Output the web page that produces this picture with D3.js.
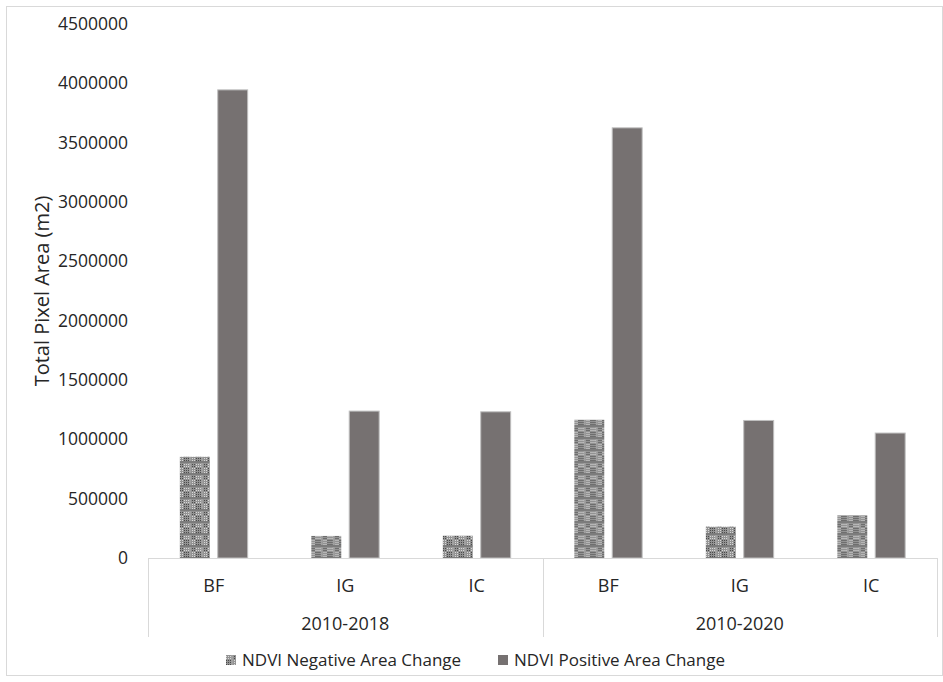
<!DOCTYPE html>
<html>
<head>
<meta charset="utf-8">
<script src="https://cdn.jsdelivr.net/npm/d3@7"></script>
<style>
  body { margin: 0; background: #fff; }
  svg text { font-family: "Open Sans", "Liberation Sans", sans-serif; fill: #262626; }
</style>
</head>
<body>
<svg id="chart" width="943" height="682"></svg>
<script>
// data
const periods = ["2010-2018", "2010-2020"];
const landCovers = ["BF", "IG", "IC"];
const seriesNames = ["NDVI Negative Area Change", "NDVI Positive Area Change"];
const negativeArea = [853000, 186000, 188000, 1165000, 264000, 360000];
const positiveArea = [3945000, 1238000, 1232000, 3625000, 1159000, 1053000];
const yTicks = [0, 500000, 1000000, 1500000, 2000000, 2500000, 3000000, 3500000, 4000000, 4500000];

const svg = d3.select("#chart");
const margin = { left: 148, right: 6, top: 24, bottom: 124 };
const W = 943, H = 682;

// one row per category (period + land cover)
const cats = [];
periods.forEach((p, i) => landCovers.forEach((c, j) => {
  const k = i * landCovers.length + j;
  cats.push({ key: p + "|" + c, period: p, cover: c, values: [negativeArea[k], positiveArea[k]] });
}));

const x = d3.scaleBand().domain(cats.map(d => d.key))
  .range([margin.left, W - margin.right]);
const xInner = d3.scaleBand().domain([0, 1])
  .range([0, x.bandwidth()]).paddingInner(0.21).paddingOuter(0.84);
const y = d3.scaleLinear().domain([0, 4500000]).range([558, margin.top]);

// plaid pattern for negative series
const defs = svg.append("defs");
const pat = defs.append("pattern").attr("id", "neg").attr("patternUnits", "userSpaceOnUse")
  .attr("width", 12).attr("height", 12);
pat.append("rect").attr("width", 12).attr("height", 12).attr("fill", "#939393");
for (let i = 0; i < 12; i += 2) {
  for (let j = 0; j < 12; j += 2) {
    const inBlock = (i < 6) !== (j < 6);
    pat.append("rect").attr("x", i).attr("y", j).attr("width", 1).attr("height", 1)
      .attr("fill", inBlock ? "#d8d8d8" : "#4a4a4a");
  }
}
pat.append("rect").attr("x", 5).attr("width", 2).attr("height", 12).attr("fill", "#a0a0a0");
pat.append("rect").attr("y", 5).attr("width", 12).attr("height", 2).attr("fill", "#7c7c7c");

// outer frame
svg.append("rect").attr("x", 6.5).attr("y", 6.5).attr("width", 936).attr("height", 669)
  .attr("fill", "none").attr("stroke", "#d9d9d9");

// y axis labels
const yAxis = svg.append("g").attr("transform", `translate(${margin.left - 17},0)`)
  .call(d3.axisLeft(y).tickValues(yTicks).tickFormat(d3.format("d")).tickSize(0));
yAxis.select(".domain").remove();
yAxis.selectAll("text").style("font-size", "17.5px").attr("fill", "#262626");

svg.append("text")
  .attr("transform", `translate(49,${(y(0) + y(4500000)) / 2}) rotate(-90)`)
  .attr("text-anchor", "middle").style("font-size", "20px")
  .text("Total Pixel Area (m2)");

// bars
const groups = svg.append("g").selectAll("g").data(cats).join("g")
  .attr("transform", d => `translate(${x(d.key)},0)`);
groups.selectAll("rect").data(d => d.values.map((v, i) => ({ v, i }))).join("rect")
  .attr("x", d => xInner(d.i))
  .attr("width", xInner.bandwidth())
  .attr("y", d => y(d.v))
  .attr("height", d => y(0) - y(d.v))
  .attr("fill", d => d.i === 0 ? "url(#neg)" : "#767171")
  .attr("stroke", d => d.i === 0 ? "none" : "#bfbfbf")
  .attr("stroke-width", 1);

// multi-level category axis
const axisG = svg.append("g").attr("stroke", "#d9d9d9").attr("fill", "none");
axisG.append("line").attr("x1", margin.left).attr("x2", W - margin.right)
  .attr("y1", y(0) + 0.5).attr("y2", y(0) + 0.5);
const periodEdges = [0, 3, 6].map(i => i < cats.length ? x(cats[i].key) : x(cats[cats.length - 1].key) + x.bandwidth());
periodEdges.forEach(px => {
  axisG.append("line").attr("x1", Math.round(px) + 0.5).attr("x2", Math.round(px) + 0.5)
    .attr("y1", y(0)).attr("y2", 637);
});

svg.append("g").selectAll("text").data(cats).join("text")
  .attr("x", d => x(d.key) + x.bandwidth() / 2).attr("y", 592)
  .attr("text-anchor", "middle").style("font-size", "18px")
  .text(d => d.cover);

svg.append("g").selectAll("text").data(periods).join("text")
  .attr("x", (d, i) => (periodEdges[i] + periodEdges[i + 1]) / 2).attr("y", 630)
  .attr("text-anchor", "middle").style("font-size", "18px")
  .text(d => d);

// legend
const legend = svg.append("g").attr("transform", "translate(226,660)");
const legX = [0, 272];
seriesNames.forEach((name, i) => {
  const g = legend.append("g").attr("transform", `translate(${legX[i]},0)`);
  g.append("rect").attr("x", 0).attr("y", -5).attr("width", 10).attr("height", 10)
    .attr("fill", i === 0 ? "url(#neg)" : "#767171");
  g.append("text").attr("x", 16).attr("y", 6).style("font-size", "17px").text(name);
});
</script>
</body>
</html>
